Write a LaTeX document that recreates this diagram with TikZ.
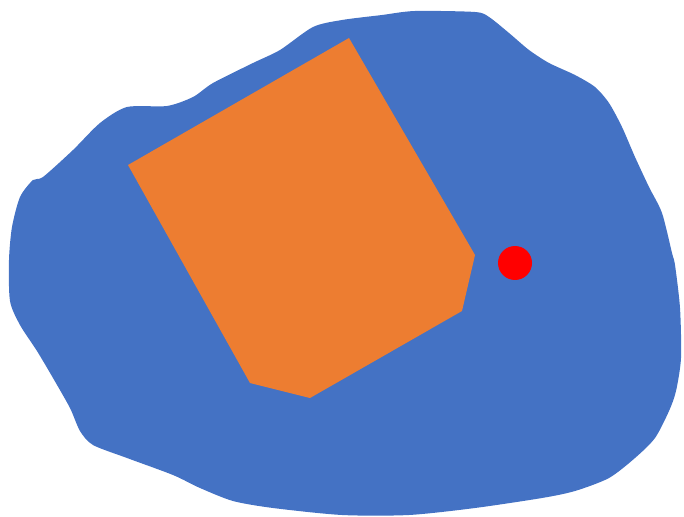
\documentclass[tikz,border=0pt]{standalone}
\definecolor{blobblue}{HTML}{4472C4}
\definecolor{polyorange}{HTML}{ED7D31}
\definecolor{dotred}{HTML}{FF0000}
\begin{document}
\begin{tikzpicture}[x=0.03cm,y=-0.03cm]
\useasboundingbox (0,0) rectangle (684,517);
\fill[blobblue] plot[smooth cycle, tension=0.45] coordinates {
(342,20) (313,27) (280,50) (253,63) (213,83) (193,97) (167,106) (127,107)
(100,123) (73,150) (43,177) (33,180) (20,197) (12,227) (9,260) (10,301)
(20,325) (37,351) (53,378) (70,408) (80,431) (93,445) (127,458) (173,475)
(200,488) (233,501) (273,508) (342,515) (409,515) (475,508) (542,498)
(575,491) (609,478) (635,458) (655,438) (669,411) (676,391) (681,358)
(680,308) (675,265) (672,253) (662,213) (649,187) (635,157) (622,127)
(609,103) (595,87) (575,75) (549,63) (529,50) (509,33) (489,17) (475,12)
(415,11) (382,15)};
\fill[polyorange] (128,165) -- (349,38) -- (475,255) -- (462,311) -- (310,398) -- (250,383) -- cycle;
\fill[dotred] (515,263) circle[radius=17];
\end{tikzpicture}
\end{document}
